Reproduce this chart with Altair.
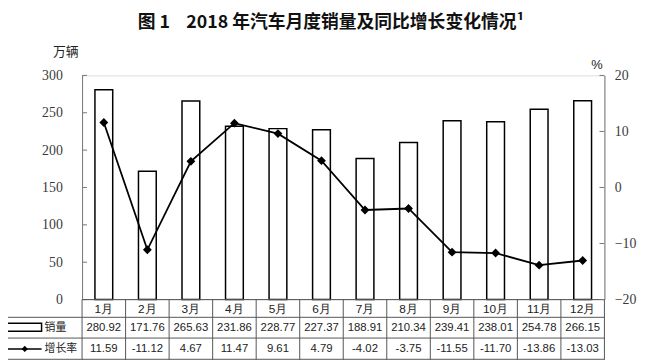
import altair as alt
import pandas as pd

months = ["1月", "2月", "3月", "4月", "5月", "6月", "7月", "8月", "9月", "10月", "11月", "12月"]
sales = [280.92, 171.76, 265.63, 231.86, 228.77, 227.37, 188.91, 210.34, 239.41, 238.01, 254.78, 266.15]
growth = [11.59, -11.12, 4.67, 11.47, 9.61, 4.79, -4.02, -3.75, -11.55, -11.70, -13.86, -13.03]
left_ticks = [0, 50, 100, 150, 200, 250, 300]
right_ticks = [-20, -10, 0, 10, 20]
title_text = "图 1\u00a0\u00a0\u00a0\u00a02018 年汽车月度销量及同比增长变化情况¹"

df = pd.DataFrame({
    "month": months,
    "sales": sales,
    "growth": growth,
    "sales_lbl": [f"{v:.2f}" for v in sales],
    "growth_lbl": [f"{v:.2f}" for v in growth],
})
lt = pd.DataFrame({"sales": left_ticks})
rt = pd.DataFrame({"growth": right_ticks})
one = pd.DataFrame({"a": [0]})

W, H = 529, 227
xs = alt.Scale(paddingInner=0, paddingOuter=0)
X = alt.X("month:N", sort=months, scale=xs, axis=None)
CJK = "Noto Sans CJK SC"
SANS = "Liberation Sans"
SERIF = "'Liberation Serif', 'DejaVu Serif', serif"
GRAY = "#777777"
LINE = "#555555"

common_axis = dict(ticks=False, grid=False, domainColor=GRAY, labelFont=SERIF,
                   labelFontSize=14, labelColor="#3a3a3a", labelFlush=False,
                   labelOverlap=False, titleFontWeight="normal", titleAlign="center",
                   titleBaseline="middle", titleColor="#222222", titleAngle=0,
                   titleFontSize=13, tickCount=len(left_ticks))
L_AX = alt.Axis(orient="left", values=left_ticks, labelPadding=20, title="万辆",
                titleX=-17, titleY=-24, titleFont=CJK, **common_axis)
R_AX = alt.Axis(orient="right", values=right_ticks, labelPadding=10, title="%",
                titleX=-8, titleY=-11, titleFont=SANS, **common_axis)
LS = alt.Scale(domain=[0, 300], nice=False)
RS = alt.Scale(domain=[-20, 20], nice=False)

base = alt.Chart(df)

bars = base.mark_bar(width=18, fill="white", stroke="black", strokeWidth=1.5).encode(
    x=X, y=alt.Y("sales:Q", scale=LS, axis=L_AX))
lticks = alt.Chart(lt).mark_rule(color=GRAY).encode(
    y=alt.Y("sales:Q", scale=LS, axis=L_AX), x=alt.value(0), x2=alt.value(5))

# table grid
vlines = base.mark_rule(color=LINE, strokeWidth=1).encode(
    x=alt.X("month:N", sort=months, scale=xs, axis=None, bandPosition=0),
    y=alt.value(H), y2=alt.value(H + 61))
vlast = alt.Chart(one).mark_rule(color=LINE).encode(
    x=alt.value(W), y=alt.value(H), y2=alt.value(H + 61))
vleft = alt.Chart(one).mark_rule(color=LINE).encode(
    x=alt.value(-81), y=alt.value(H + 18), y2=alt.value(H + 61))
hlines = [alt.Chart(one).mark_rule(color=LINE).encode(
    x=alt.value(0), x2=alt.value(W), y=alt.value(H))]
for py in [H + 18, H + 39, H + 60.5]:
    hlines.append(alt.Chart(one).mark_rule(color=LINE).encode(
        x=alt.value(-81), x2=alt.value(W), y=alt.value(py)))

mtext = base.mark_text(font=SANS, fontSize=12, color="#222222").encode(
    x=X, y=alt.value(H + 9.5), text="month:N")
stext = base.mark_text(font=SANS, fontSize=11.5, color="#222222").encode(
    x=X, y=alt.value(H + 28.5), text="sales_lbl:N")
gtext = base.mark_text(font=SANS, fontSize=11.5, color="#222222").encode(
    x=X, y=alt.value(H + 50), text="growth_lbl:N")

# row legend icons
icon_rect = alt.Chart(one).mark_rect(fill="white", stroke="black", strokeWidth=1.5).encode(
    x=alt.value(-80), x2=alt.value(-41), y=alt.value(H + 24), y2=alt.value(H + 32))
icon_line = alt.Chart(one).mark_rule(color="black", strokeWidth=1.5).encode(
    x=alt.value(-76), x2=alt.value(-41), y=alt.value(H + 50))
icon_pt = alt.Chart(one).mark_point(shape="diamond", filled=True, color="black", size=40, opacity=1).encode(
    x=alt.value(-58), y=alt.value(H + 50))
lab1 = alt.Chart(one).mark_text(text="销量", font=CJK, fontSize=11, align="left", color="#222222").encode(
    x=alt.value(-38), y=alt.value(H + 28.5))
lab2 = alt.Chart(one).mark_text(text="增长率", font=CJK, fontSize=11, align="left", color="#222222").encode(
    x=alt.value(-38), y=alt.value(H + 50))
title = alt.Chart(one).mark_text(text=title_text, font=CJK, fontSize=18, fontWeight="bold",
                                 color="#111111").encode(
    x=alt.value(252), y=alt.value(-53))

left = alt.layer(bars, lticks, vlines, vlast, vleft, *hlines, mtext, stext, gtext,
                 icon_rect, icon_line, icon_pt, lab1, lab2, title)

line = base.mark_line(color="black", strokeWidth=1.8).encode(
    x=X, y=alt.Y("growth:Q", scale=RS, axis=R_AX))
pts = base.mark_point(shape="diamond", filled=True, color="black", size=80, opacity=1).encode(
    x=X, y=alt.Y("growth:Q", scale=RS, axis=R_AX))
rticks = alt.Chart(rt).mark_rule(color=GRAY).encode(
    y=alt.Y("growth:Q", scale=RS, axis=R_AX), x=alt.value(W - 5), x2=alt.value(W))

right = alt.layer(line, pts, rticks)

chart = alt.layer(left, right).resolve_scale(y="independent").properties(
    width=W, height=H,
    autosize=alt.AutoSizeParams(type="none"),
    padding={"left": 75, "top": 66, "right": 34, "bottom": 62},
).configure_view(stroke=None).configure(background="white").configure_axis(
    labelFont=SERIF, labelFontSize=14, labelOverlap=False, labelFlush=False,
)

chart.save("out.html", embed_options={"renderer": "svg", "actions": False})
